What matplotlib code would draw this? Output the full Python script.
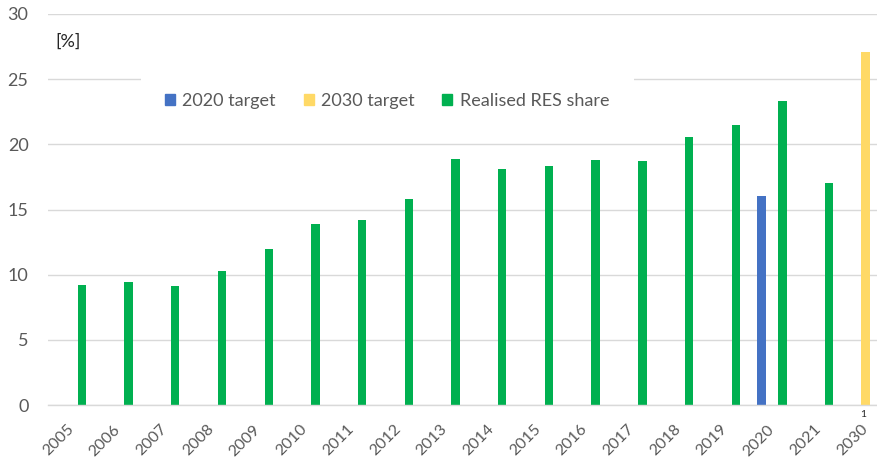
import numpy as np
import matplotlib.pyplot as plt
from matplotlib.patches import Patch, Rectangle

plt.rcParams["font.family"] = ["Lato", "DejaVu Sans"]

# data
years = ["2005", "2006", "2007", "2008", "2009", "2010", "2011", "2012", "2013",
         "2014", "2015", "2016", "2017", "2018", "2019", "2020", "2021", "2030"]
realised = [9.2, 9.4, 9.1, 10.3, 12.0, 13.9, 14.2, 15.8, 18.9,
            18.1, 18.3, 18.8, 18.7, 20.6, 21.5, 23.3, 17.0, np.nan]
target_2020 = [np.nan] * 15 + [16.0, np.nan, np.nan]
target_2030 = [np.nan] * 17 + [27.1]

BLUE = "#4472C4"
YELLOW = "#FFD966"
GREEN = "#00B050"
TXT = "#595959"
GRID = "#D9D9D9"

W, H = 878, 462
fig = plt.figure(figsize=(W / 100, H / 100), dpi=100)
x0, x1 = 48, 878
y0, y1 = 405, 14
ax = fig.add_axes([x0 / W, 1 - y0 / H, (x1 - x0) / W, (y0 - y1) / H])

x = np.arange(len(years))
bw = 0.178
off = 0.225
ax.bar(x - off, target_2020, bw, color=BLUE, zorder=2)
ax.bar(x, target_2030, bw, color=YELLOW, zorder=2)
ax.bar(x + off, realised, bw, color=GREEN, zorder=2)

ax.set_xlim(-0.5, 17.27)
ax.set_ylim(0, 30)
ax.set_yticks(range(0, 31, 5))
ax.set_axisbelow(True)
ax.yaxis.grid(True, color=GRID, lw=1)
for s in ["top", "right", "left"]:
    ax.spines[s].set_visible(False)
ax.spines["bottom"].set_color(GRID)
ax.spines["bottom"].set_linewidth(1)

ax.tick_params(axis="both", length=0, labelcolor=TXT)
ax.tick_params(axis="y", pad=14, labelsize=13)
ax.tick_params(axis="x", pad=16, labelsize=11.5)
ax.set_xticks(x)
ax.set_xticklabels(years, rotation=45, ha="right", va="center",
                   rotation_mode="anchor")

# unit label and footnote mark
fig.text(68 / W, 1 - 42 / H, "[%]", ha="center", va="center", fontsize=13,
         color="#262626")
ax.text(16.96, -0.4, "1", ha="center", va="top", fontsize=7.5, color="#262626")

# white area behind the legend (hides the gridline)
ax.add_patch(Rectangle((141, H - 140), 634 - 141, 78, transform=None,
                       facecolor="white", edgecolor="none", zorder=1))

handles = [Patch(color=BLUE, label="2020 target"),
           Patch(color=YELLOW, label="2030 target"),
           Patch(color=GREEN, label="Realised RES share")]
fig.legend(handles=handles, loc="center", ncol=3, frameon=False,
           bbox_to_anchor=(387 / W, 1 - 101 / H), fontsize=13,
           handlelength=0.55, handleheight=0.55, handletextpad=0.4,
           columnspacing=1.55, labelcolor=TXT)

fig.savefig("out.png", dpi=100)
